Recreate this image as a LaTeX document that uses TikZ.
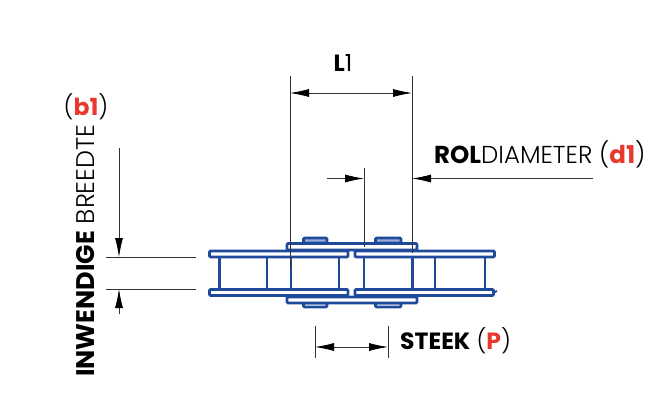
\documentclass[tikz,border=0pt]{standalone}
\usepackage{fontspec}
\setmainfont{Poppins}
\newfontfamily\lightfont{Poppins Light}
\usetikzlibrary{arrows.meta}
\definecolor{chainblue}{HTML}{1F4A9C}
\definecolor{labelred}{HTML}{E8392F}
\tikzstyle{plate} = [draw=chainblue, fill=white, line width=2.8pt, rounded corners=1pt]
\tikzstyle{pinhead} = [draw=chainblue, fill=chainblue!45, line width=2.8pt, rounded corners=1pt]
\tikzstyle{pin} = [draw=chainblue, line width=3pt]
\tikzstyle{thinpin} = [draw=chainblue, line width=2pt]
\tikzstyle{extline} = [draw=black!80, line width=0.8pt]
\tikzstyle{dimline} = [draw=black!80, line width=0.8pt, {Latex[length=19pt,width=8pt,black]}-{Latex[length=19pt,width=8pt,black]}]
\tikzstyle{label} = [inner sep=0pt, font=\fontsize{23.5}{24}\selectfont]
\newcommand{\redbold}[1]{\textcolor{labelred}{\textbf{#1}}}
\begin{document}
\begin{tikzpicture}[x=1pt, y=-1pt]
        \useasboundingbox (0,0) rectangle (670,415);

        % pin heads and inner plates
        \draw[pinhead] (303.5,238) rectangle (327,243);
        \draw[pinhead] (375.5,238) rectangle (401,243);
        \draw[plate] (303.5,303) rectangle (327,307);
        \draw[plate] (375.5,303) rectangle (401,307);
        \draw[plate] (287,243.5) rectangle (417,250);
        \draw[plate] (287,297) rectangle (417,303);

        % outer plates
        \draw[plate] (209.5,251) rectangle (348,257);
        \draw[plate] (209.5,289.5) rectangle (348,295.5);
        \draw[plate] (355,251) rectangle (494.5,257);
        \draw[plate] (355,289.5) rectangle (493.5,295.5);
        \draw[thinpin] (493,293) -- (497,291);

        % pins
        \foreach \px in {219,412}
            \draw[pin] (\px,257) -- (\px,289);
        \foreach \px in {267,291,339,364,435,485}
            \draw[thinpin] (\px,257) -- (\px,289);

        % L1
        \coordinate (l1left) at (290,93);
        \coordinate (l1right) at (412,93);
        \draw[extline] (290,76) -- (290,268);
        \draw[extline] (412,76) -- (412,253);
        \draw[dimline] (l1left) -- (l1right);
        \node[label] (l1label) at (343,63) {\textbf{L}1};

        % roller diameter
        \coordinate (rolstart) at (327,178.5);
        \coordinate (rolleft) at (364,178.5);
        \coordinate (rolright) at (412,178.5);
        \coordinate (rolend) at (593,178.5);
        \draw[extline] (364,168) -- (364,247);
        \draw[extline, -{Latex[length=19pt,width=8pt,black]}] (rolstart) -- (rolleft);
        \draw[extline, -{Latex[length=19pt,width=8pt,black]}] (rolend) -- (rolright);
        \node[label, anchor=base west, font=\fontsize{24.5}{24}\selectfont] (rollabel) at (434,163) {\textbf{ROL}{\lightfont DIAMETER (}\redbold{d1}{\lightfont )}};

        % inner width
        \coordinate (b1start) at (119,148);
        \coordinate (b1top) at (119,257);
        \coordinate (b1bottom) at (119,289);
        \coordinate (b1end) at (119,314);
        \draw[extline] (106,257) -- (196,257);
        \draw[extline] (106,289) -- (196,289);
        \draw[extline, -{Latex[length=19pt,width=8pt,black]}] (b1start) -- (b1top);
        \draw[extline, -{Latex[length=19pt,width=8pt,black]}] (b1end) -- (b1bottom);
        \node[label] (b1label) at (86,107) {{\lightfont (}\redbold{b1}{\lightfont )}};
        \node[label, rotate=90, anchor=base west, font=\fontsize{25.5}{26}\selectfont] (widthlabel) at (94,377) {\textbf{INWENDIGE} {\lightfont BREEDTE}};

        % pitch
        \coordinate (steekleft) at (315,347);
        \coordinate (steekright) at (388,347);
        \draw[extline] (315,326) -- (315,358);
        \draw[extline] (388,326) -- (388,358);
        \draw[dimline] (steekleft) -- (steekright);
        \node[label, anchor=base west] (steeklabel) at (400,349) {\textbf{STEEK} {\lightfont (}\redbold{P}{\lightfont )}};
    \end{tikzpicture}
\end{document}
